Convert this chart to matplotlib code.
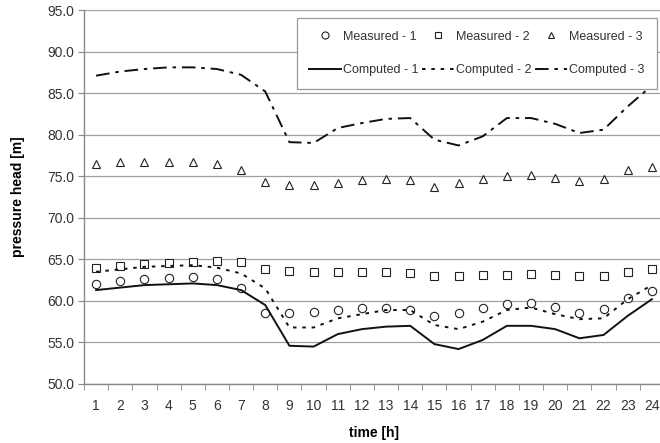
import matplotlib
matplotlib.use("Agg")
import matplotlib.pyplot as plt
import numpy as np

plt.rcParams['font.family'] = ['Liberation Sans', 'DejaVu Sans']

hours = list(range(1, 25))

measured_1 = [62.0, 62.4, 62.6, 62.8, 62.9, 62.6, 61.5, 58.6, 58.5, 58.7, 58.9, 59.1,
              59.2, 58.9, 58.2, 58.5, 59.2, 59.6, 59.7, 59.3, 58.6, 59.0, 60.3, 61.2]
measured_2 = [63.9, 64.2, 64.4, 64.6, 64.7, 64.8, 64.7, 63.8, 63.6, 63.5, 63.5, 63.5,
              63.5, 63.3, 63.0, 63.0, 63.1, 63.1, 63.2, 63.1, 63.0, 63.0, 63.5, 63.8]
measured_3 = [76.5, 76.7, 76.7, 76.7, 76.7, 76.5, 75.8, 74.3, 74.0, 74.0, 74.2, 74.5,
              74.7, 74.5, 73.7, 74.2, 74.7, 75.0, 75.2, 74.8, 74.4, 74.7, 75.7, 76.1]

computed_1 = [61.3, 61.6, 61.9, 62.0, 62.1, 61.9, 61.3, 59.5, 54.6, 54.5, 56.0, 56.6,
              56.9, 57.0, 54.8, 54.2, 55.3, 57.0, 57.0, 56.6, 55.5, 55.9, 58.2, 60.2]
computed_2 = [63.5, 63.8, 64.1, 64.2, 64.3, 64.0, 63.3, 61.5, 56.8, 56.8, 57.9, 58.4,
              58.9, 58.9, 57.1, 56.6, 57.5, 58.9, 59.2, 58.4, 57.8, 57.9, 60.2, 61.9]
computed_3 = [87.1, 87.6, 87.9, 88.1, 88.1, 87.9, 87.2, 85.2, 79.1, 79.0, 80.8, 81.4,
              81.9, 82.0, 79.4, 78.7, 79.8, 82.0, 82.0, 81.3, 80.2, 80.6, 83.4, 85.9]

y_ticks = np.arange(50.0, 95.1, 5.0)

fig = plt.figure(figsize=(6.6, 4.43), dpi=100)
ax = fig.add_axes([0.1273, 0.1332, 0.8787, 0.8442])

text_c = '#333333'
grid_c = '#a0a0a0'
for y in y_ticks:
    ax.axhline(y, color=grid_c, lw=0.9, zorder=0)

mk = dict(linestyle='none', markerfacecolor='white', markeredgecolor='#222222',
          markeredgewidth=0.8)
h_m1, = ax.plot(hours, measured_1, marker='o', markersize=6, label='Measured - 1', **mk)
h_m2, = ax.plot(hours, measured_2, marker='s', markersize=5.5, label='Measured - 2', **mk)
h_m3, = ax.plot(hours, measured_3, marker='^', markersize=5.5, label='Measured - 3', **mk)

h_c1, = ax.plot(hours, computed_1, color='#111111', lw=1.4, label='Computed - 1')
h_c2, = ax.plot(hours, computed_2, color='#111111', lw=1.4,
                linestyle=(0, (1.8, 3.0)), label='Computed - 2')
h_c3, = ax.plot(hours, computed_3, color='#111111', lw=1.4,
                linestyle=(0, (7.0, 3.0, 1.8, 3.0)), label='Computed - 3')

ax.set_xlim(0.5, 24.5)
ax.set_ylim(50, 95)
ax.set_yticks(y_ticks)
ax.set_yticklabels([f'{v:.1f}' for v in y_ticks])
ax.set_xticks(hours)
ax.set_xticklabels([str(h) for h in hours])
ax.set_xticks(np.arange(0.5, 24.6, 1.0), minor=True)
ax.tick_params(axis='x', which='major', length=0, pad=11, labelsize=10,
               labelcolor=text_c)
ax.tick_params(axis='x', which='minor', length=4, direction='out', color='#888888')
ax.tick_params(axis='y', length=4, direction='out', color='#888888', labelsize=10,
               pad=3, labelcolor=text_c)

for s in ['top', 'right']:
    ax.spines[s].set_visible(False)
for s in ['left', 'bottom']:
    ax.spines[s].set_color('#888888')
    ax.spines[s].set_linewidth(1.0)
ax.spines['bottom'].set_zorder(0.5)

ax.set_xlabel('time [h]', fontweight='bold', fontsize=10, labelpad=9)
ax.set_ylabel('pressure head [m]', fontweight='bold', fontsize=10, labelpad=16)

leg = ax.legend(handles=[h_m1, h_c1, h_m2, h_c2, h_m3, h_c3], ncol=3,
                loc='upper left', bbox_to_anchor=(0.367, 0.9786),
                fontsize=9, frameon=True, fancybox=False, edgecolor='#999999',
                handlelength=2.5, columnspacing=0.3, handletextpad=0.2,
                labelspacing=1.75, borderpad=1.0, borderaxespad=0.0, framealpha=1,
                markerscale=0.85)
leg.get_frame().set_linewidth(0.9)
for t in leg.get_texts():
    t.set_color(text_c)

fig.savefig('out.png', dpi=100)
